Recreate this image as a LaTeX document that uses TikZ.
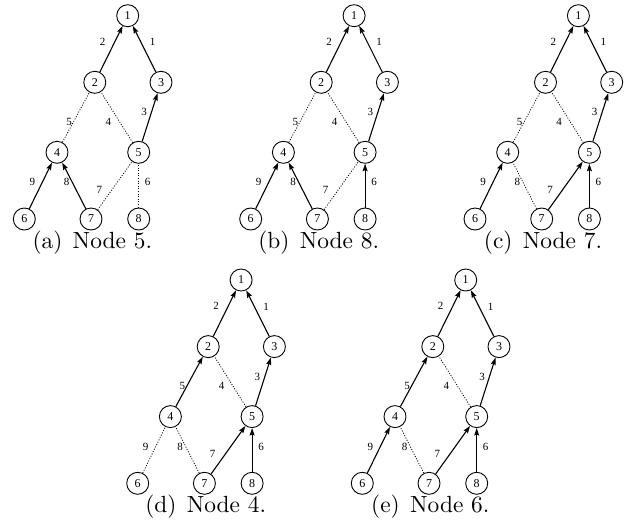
\documentclass[tikz,border=0pt]{standalone}
\usepackage{fontspec}
\newfontfamily\figfont{Liberation Serif}
\usetikzlibrary{arrows.meta}

\tikzset{
  vert/.style={circle, draw, line width=0.9pt, minimum size=22pt, inner sep=0pt,
               font=\figfont\fontsize{12}{12}\selectfont},
  elabel/.style={inner sep=0pt, font=\figfont\fontsize{11}{11}\selectfont},
  arr/.style={line width=1.1pt, -{Stealth[length=7.5pt, width=5pt, inset=1.2pt]}},
  dot/.style={line width=0.8pt, dash pattern=on 1pt off 1.6pt},
  captext/.style={anchor=base, inner sep=0pt, scale=2.34, font=\fontsize{10}{12}\selectfont},
}

% One spanning-tree panel.
% #1,#2: shift;  #3: panel letter;  #4..#8: styles of edges 4-2, 6-4, 7-4, 7-5, 8-5;  #9: caption text
\newcommand{\treepanel}[9]{%
  \begin{scope}[shift={(#1,#2)}, name prefix=#3-]
    \node[vert] (n1) at (127.7,15.7) {1};
    \node[vert] (n2) at (94.8,82.3) {2};
    \node[vert] (n3) at (161,82.3) {3};
    \node[vert] (n4) at (57,152.3) {4};
    \node[vert] (n5) at (138.7,152.3) {5};
    \node[vert] (n6) at (24.3,219) {6};
    \node[vert] (n7) at (91,219) {7};
    \node[vert] (n8) at (138.7,219) {8};
    \draw[arr] (n2) -- (n1);
    \draw[arr] (n3) -- (n1);
    \draw[arr] (n5) -- (n3);
    \draw[dot] (n5) -- (n2);
    \draw[#4] (n4) -- (n2);
    \draw[#5] (n6) -- (n4);
    \draw[#6] (n7) -- (n4);
    \draw[#7] (n7) -- (n5);
    \draw[#8] (n8) -- (n5);
    \node[elabel] (l21) at (102.7,41.7) {2};
    \node[elabel] (l31) at (152.7,42.3) {1};
    \node[elabel] (l42) at (69,121.7) {5};
    \node[elabel] (l52) at (108.3,121.7) {4};
    \node[elabel] (l53) at (144,112.3) {3};
    \node[elabel] (l64) at (32.3,182.3) {9};
    \node[elabel] (l74) at (66.7,182.3) {8};
    \node[elabel] (l75) at (99.3,190) {7};
    \node[elabel] (l85) at (147.7,182.3) {6};
    \node[captext] (caption) at (92.3,248) {(#3)\hspace{0.44em}#9};
  \end{scope}}

\begin{document}
\begin{tikzpicture}[x=1pt, y=-1pt]
  \useasboundingbox (0,0) rectangle (639,523);
  \treepanel{0}{0}{a}{dot}{arr}{arr}{dot}{dot}{Node 5.}
  \treepanel{226.4}{0}{b}{dot}{arr}{arr}{dot}{arr}{Node 8.}
  \treepanel{450.7}{0}{c}{dot}{arr}{dot}{arr}{arr}{Node 7.}
  \treepanel{113.4}{264.3}{d}{arr}{dot}{dot}{arr}{arr}{Node 4.}
  \treepanel{338}{264.3}{e}{arr}{arr}{dot}{arr}{arr}{Node 6.}
\end{tikzpicture}
\end{document}
